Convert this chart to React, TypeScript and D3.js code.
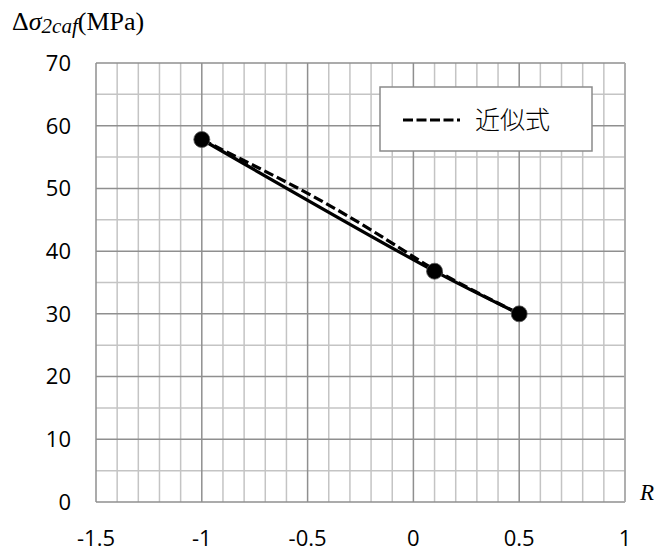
import React from "react";
import * as d3 from "d3";

const xTicks = [-1.5, -1, -0.5, 0, 0.5, 1];
const yTicks = [0, 10, 20, 30, 40, 50, 60, 70];
const rValues = [-1, 0.1, 0.5];
const sigmaValues = [57.8, 36.8, 30.0];
const approxR = [-1, -0.75, -0.5, -0.25, 0, 0.1, 0.3, 0.5];
const approxSigma = [57.8, 53.6, 49.3, 44.5, 39.1, 37.0, 33.4, 30.0];
const legendLabel = "近似式";

const W = 657;
const H = 552;
const M = { left: 96, right: 625, top: 63, bottom: 502 };

export default function App() {
  const x = d3.scaleLinear().domain([-1.5, 1]).range([M.left, M.right]);
  const y = d3.scaleLinear().domain([0, 70]).range([M.bottom, M.top]);

  const minorX = d3.range(-1.5, 1.0001, 0.1).map((v) => Math.round(v * 10) / 10);
  const minorY = d3.range(0, 70.001, 5);

  const solid = d3
    .line<number>()
    .x((_, i) => x(rValues[i]))
    .y((_, i) => y(sigmaValues[i]))
    .curve(d3.curveCatmullRom.alpha(0.5))(rValues as any);

  const dashed = d3
    .line<number>()
    .x((_, i) => x(approxR[i]))
    .y((_, i) => y(approxSigma[i]))
    .curve(d3.curveBasis)(approxR as any);

  const isMajorX = (v: number) => Math.abs(v * 2 - Math.round(v * 2)) < 1e-6;
  const isMajorY = (v: number) => v % 10 === 0;

  return (
    <svg
      width={W}
      height={H}
      style={{ position: "absolute", left: 0, top: 0, background: "#fff" }}
    >
      <rect x={0} y={0} width={W} height={H} fill="#fff" />
      {/* minor grid */}
      {minorX.filter((v) => !isMajorX(v)).map((v) => (
        <line key={"mx" + v} x1={x(v)} x2={x(v)} y1={M.top} y2={M.bottom} stroke="#c4c4c4" strokeWidth={1.5} />
      ))}
      {minorY.filter((v) => !isMajorY(v)).map((v) => (
        <line key={"my" + v} x1={M.left} x2={M.right} y1={y(v)} y2={y(v)} stroke="#c4c4c4" strokeWidth={1.5} />
      ))}
      {/* major grid */}
      {xTicks.map((v) => (
        <line key={"Mx" + v} x1={x(v)} x2={x(v)} y1={M.top} y2={M.bottom} stroke="#8f8f8f" strokeWidth={1.5} />
      ))}
      {yTicks.map((v) => (
        <line key={"My" + v} x1={M.left} x2={M.right} y1={y(v)} y2={y(v)} stroke="#8f8f8f" strokeWidth={1.5} />
      ))}
      <line x1={M.right} x2={M.right} y1={M.top} y2={M.bottom} stroke="#b0b0b0" strokeWidth={1.5} />

      {/* tick labels */}
      {yTicks.map((v) => (
        <text key={"ty" + v} x={71} y={y(v)} dy="0.36em" textAnchor="end" fontFamily="'Open Sans', sans-serif" fontSize={22} fill="#000">
          {v}
        </text>
      ))}
      {xTicks.map((v) => (
        <text key={"tx" + v} x={x(v)} y={538} dy="0.36em" textAnchor="middle" fontFamily="'Open Sans', sans-serif" fontSize={22} fill="#000">
          {v}
        </text>
      ))}

      {/* lines */}
      <path d={dashed || ""} fill="none" stroke="#000" strokeWidth={3.2} strokeDasharray="10,4" />
      <path d={solid || ""} fill="none" stroke="#000" strokeWidth={3.2} />
      {rValues.map((r, i) => (
        <circle key={"pt" + i} cx={x(r)} cy={y(sigmaValues[i])} r={8} fill="#000" stroke="#555" strokeWidth={0.8} />
      ))}

      {/* legend */}
      <rect x={380} y={87} width={212} height={64} fill="#fff" stroke="#8a8a8a" strokeWidth={1.5} />
      <line x1={403} x2={460} y1={120} y2={120} stroke="#000" strokeWidth={3.2} strokeDasharray="10,3.5" />
      <text x={475} y={120} dy="0.36em" fontFamily="'Noto Sans CJK JP', sans-serif" fontSize={25} fontWeight={300} fill="#000">
        {legendLabel}
      </text>

      {/* axis titles */}
      <text x={12} y={30} fontFamily="'Liberation Serif', serif" fontSize={26} fill="#000">
        Δ<tspan fontStyle="italic">σ</tspan>
        <tspan fontStyle="italic" fontSize={21} dy={3}>2caf</tspan>
        <tspan dy={-3}>(MPa)</tspan>
      </text>
      <text x={640} y={500} fontFamily="'Liberation Serif', serif" fontStyle="italic" fontSize={23} fill="#000">
        R
      </text>
    </svg>
  );
}
